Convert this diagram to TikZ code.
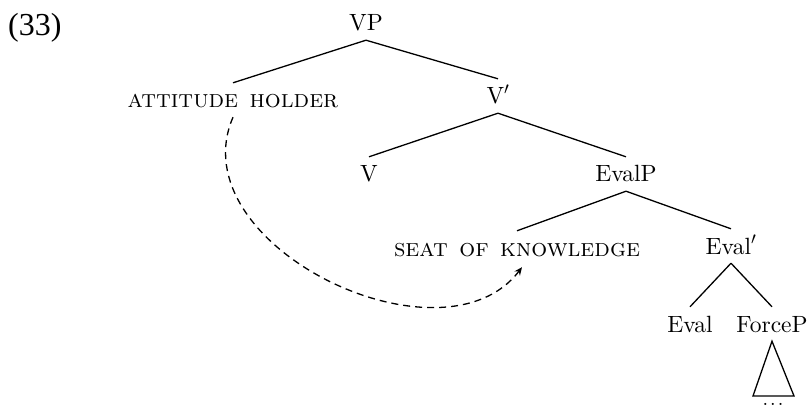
\documentclass[tikz,border=0pt]{standalone}
\usepackage{fontspec}
\setmainfont{lmroman10-regular.otf}[SmallCapsFont=lmromancaps10-regular.otf]
\newfontfamily\exfont{Liberation Serif}
\usetikzlibrary{arrows.meta}
% wider word gap for the small-caps role labels
\newcommand{\wgap}{\hspace{11.5pt}}
\begin{document}
\begin{tikzpicture}[x=1pt,y=-1pt,
  cat/.style={anchor=base, inner xsep=0pt, inner ysep=9pt,
    text height=16pt, text depth=0pt, font=\fontsize{23.5}{28}\selectfont},
  role/.style={cat, font=\fontsize{25}{30}\selectfont\scshape},
  branch/.style={line width=1.3pt},
  link/.style={line width=1.3pt, dash pattern=on 7pt off 5pt,
    -{Stealth[length=8pt,width=7pt]}}]
\useasboundingbox (0,0) rectangle (809,409);

% example number
\node[anchor=base west, inner sep=0pt, font=\exfont\fontsize{32}{38}\selectfont] (ex) at (8,36) {(33)};

% tree nodes
\node[cat]  (vp)      at (366,31)  {VP};
\node[role] (ah)      at (233,108) {attitude\wgap holder};
\node[cat]  (vbar)    at (498,104) {V$'$};
\node[cat]  (v)       at (369,182) {V};
\node[cat]  (evalp)   at (626,182) {EvalP};
\node[role] (sk)      at (517,256) {seat\wgap of\wgap knowledge};
\node[cat]  (evalbar) at (731,254) {Eval$'$};
\node[cat]  (eval)    at (690,332) {Eval};
\node[cat]  (forcep)  at (772,332) {ForceP};
\node[anchor=base, inner sep=0pt, font=\fontsize{20}{24}\selectfont] (dots) at (773,405) {.\hspace{2pt}.\hspace{2pt}.};

% branches
\draw[branch] (vp.south) -- (ah.north);
\draw[branch] (vp.south) -- (vbar.north);
\draw[branch] (vbar.south) -- (v.north);
\draw[branch] (vbar.south) -- (evalp.north);
\draw[branch] (evalp.south) -- (sk.north);
\draw[branch] (evalp.south) -- (evalbar.north);
\draw[branch] (evalbar.south) -- (eval.north);
\draw[branch] (evalbar.south) -- (forcep.north);

% roof over ForceP
\coordinate (roofl) at (753,396);
\coordinate (roofr) at (794,396);
\draw[branch, line join=miter] (forcep.south) -- (roofl) -- (roofr) -- cycle;

% movement link
\coordinate (tip) at ([xshift=5pt,yshift=-2pt]sk.south);
\draw[link] (ah.south) .. controls (178,245) and (442,372) .. (tip);
\end{tikzpicture}
\end{document}
